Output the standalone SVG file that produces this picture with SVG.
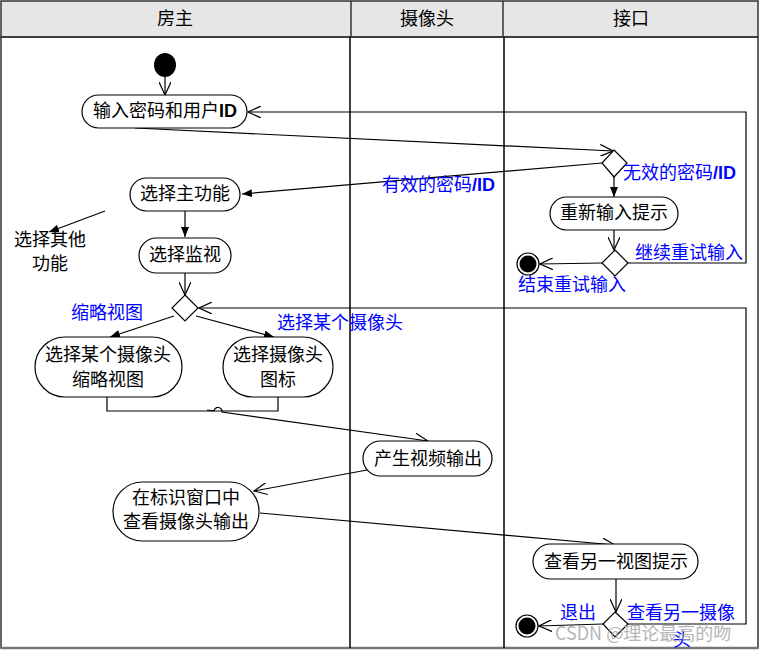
<svg xmlns="http://www.w3.org/2000/svg" width="760" height="652" viewBox="0 0 760 652">
<style>
.t{font-family:"Noto Sans CJK SC","Liberation Sans",sans-serif;font-size:18px;fill:#000;}
.c{text-anchor:middle;}
.bl{fill:#0000ff;}
.b{font-family:"Liberation Sans",Arial,sans-serif;font-weight:bold;}
.n{fill:#fff;stroke:#000;stroke-width:1.2;}
.ln{fill:none;stroke:#000;stroke-width:1.2;}
.dm{fill:#fff;stroke:#000;stroke-width:1.2;}
</style>
<defs>
<marker id="open" viewBox="0 0 14 12" refX="13" refY="6" markerWidth="14" markerHeight="12" markerUnits="userSpaceOnUse" orient="auto">
<path d="M0,0 L13,6 L0,12" fill="none" stroke="#000" stroke-width="1.2"/>
</marker>
<marker id="fill" viewBox="0 0 10 8" refX="10" refY="4" markerWidth="10" markerHeight="8" markerUnits="userSpaceOnUse" orient="auto">
<path d="M0,0 L10,4 L0,8 Z" fill="#000"/>
</marker>
</defs>
<rect x="0" y="0" width="760" height="652" fill="#fff"/>
<g id="lanes">
<rect x="1" y="1" width="757" height="36" fill="#e6e6e6" stroke="#333" stroke-width="1.5"/>
<rect x="1" y="37" width="757" height="611" fill="none" stroke="#333" stroke-width="1.5"/>
<line x1="1" y1="648" x2="758" y2="648" stroke="#777" stroke-width="2.5"/>
<line x1="351" y1="1" x2="351" y2="37" stroke="#333" stroke-width="1.5"/>
<line x1="503" y1="1" x2="503" y2="37" stroke="#333" stroke-width="1.5"/>
<line x1="350" y1="37" x2="350" y2="648" stroke="#000" stroke-width="1.5"/>
<line x1="504" y1="37" x2="504" y2="648" stroke="#000" stroke-width="1.5"/>
<text class="t c" x="175" y="25">房主</text>
<text class="t c" x="427" y="25">摄像头</text>
<text class="t c" x="631" y="25">接口</text>
</g>
<g id="connectors">
<line class="ln" x1="165" y1="77" x2="165" y2="95" marker-end="url(#open)"/>
<line class="ln" x1="135" y1="128" x2="613" y2="151" marker-end="url(#open)"/>
<line class="ln" x1="602" y1="163" x2="242" y2="194" marker-end="url(#fill)"/>
<line class="ln" x1="614" y1="177" x2="614" y2="197" marker-end="url(#fill)"/>
<line class="ln" x1="614" y1="230" x2="614" y2="250" marker-end="url(#open)"/>
<line class="ln" x1="602" y1="263" x2="540" y2="264" marker-end="url(#open)"/>
<polyline class="ln" points="628,263 746,263 746,112 248,112" marker-end="url(#open)"/>
<line class="ln" x1="185" y1="211" x2="185" y2="237" marker-end="url(#fill)"/>
<line class="ln" x1="105" y1="211" x2="49" y2="232" marker-end="url(#fill)"/>
<line class="ln" x1="185" y1="273" x2="185" y2="295" marker-end="url(#open)"/>
<line class="ln" x1="174" y1="316" x2="110" y2="337" marker-end="url(#fill)"/>
<line class="ln" x1="196" y1="316" x2="274" y2="337" marker-end="url(#fill)"/>
<polyline class="ln" points="628,624 746,624 746,308 199,308" marker-end="url(#open)"/>
<polyline class="ln" points="107,397 107,411 278,411 278,397"/>
<path class="ln" d="M207,410 L214,410.9 A4,4 0 0 1 222,412.1 L428,441" marker-end="url(#open)"/>
<line class="ln" x1="367" y1="470" x2="254" y2="491" marker-end="url(#open)"/>
<line class="ln" x1="260" y1="513" x2="615" y2="545" marker-end="url(#open)"/>
<line class="ln" x1="616" y1="579" x2="616" y2="612" marker-end="url(#open)"/>
<line class="ln" x1="603" y1="624" x2="539" y2="626" marker-end="url(#open)"/>
</g>
<g id="start"><ellipse cx="165" cy="65" rx="11" ry="12" fill="#000"/></g>
<g id="input"><rect class="n" x="82" y="95" width="165" height="33" rx="16.5"/><text class="t c" x="165" y="117">输入密码和用户<tspan class="b">ID</tspan></text></g>
<g id="d1"><polygon class="dm" points="614,150 627,163 614,177 602,163"/></g>
<g id="main"><rect class="n" x="130" y="178" width="110" height="33" rx="16.5"/><text class="t c" x="185" y="200">选择主功能</text></g>
<g id="other"><text class="t c" x="50" y="246">选择其他</text><text class="t c" x="50" y="270">功能</text></g>
<g id="monitor"><rect class="n" x="139" y="238" width="92" height="35" rx="17.5"/><text class="t c" x="185" y="261">选择监视</text></g>
<g id="d3"><polygon class="dm" points="185,295 198,308 185,321 172,308"/></g>
<g id="thumb"><rect class="n" x="35" y="337" width="147" height="60" rx="30"/><text class="t c" x="108" y="361">选择某个摄像头</text><text class="t c" x="108" y="386">缩略视图</text></g>
<g id="icon"><rect class="n" x="223" y="337" width="110" height="60" rx="30"/><text class="t c" x="278" y="361">选择摄像头</text><text class="t c" x="278" y="386">图标</text></g>
<g id="video"><rect class="n" x="363" y="441" width="129" height="35" rx="17.5"/><text class="t c" x="428" y="465">产生视频输出</text></g>
<g id="view"><rect class="n" x="113" y="482" width="146" height="59" rx="29.5"/><text class="t c" x="186" y="504">在标识窗口中</text><text class="t c" x="186" y="528">查看摄像头输出</text></g>
<g id="retry"><rect class="n" x="550" y="197" width="128" height="33" rx="16.5"/><text class="t c" x="614" y="219">重新输入提示</text></g>
<g id="d2"><polygon class="dm" points="615,250 628,263 615,276 602,263"/></g>
<g id="end1"><circle cx="528" cy="264" r="11" fill="#fff" stroke="#000" stroke-width="1.2"/><circle cx="528" cy="264" r="8.5" fill="#000"/></g>
<g id="another"><rect class="n" x="533" y="544" width="165" height="35" rx="17.5"/><text class="t c" x="616" y="568">查看另一视图提示</text></g>
<g id="d4"><polygon class="dm" points="615,612 628,624 615,637 603,624"/></g>
<g id="end2"><circle cx="527" cy="626" r="11" fill="#fff" stroke="#000" stroke-width="1.2"/><circle cx="527" cy="626" r="8.5" fill="#000"/></g>
<g id="labels">
<text class="t bl" x="382" y="191">有效的密码<tspan class="b">/ID</tspan></text>
<text class="t bl" x="623" y="179">无效的密码<tspan class="b">/ID</tspan></text>
<text class="t bl" x="635" y="259">继续重试输入</text>
<text class="t bl" x="518" y="291">结束重试输入</text>
<text class="t bl" x="71" y="319">缩略视图</text>
<text class="t bl" x="277" y="329">选择某个摄像头</text>
<text class="t bl" x="560" y="619">退出</text>
<text class="t bl" x="627" y="619">查看另一摄像</text>
<text class="t bl" x="673" y="646">头</text>
</g>
<text x="555" y="640" style="font-family:'Noto Sans CJK SC','Liberation Sans',sans-serif;font-size:18px;fill:#aaaaaa;opacity:0.85">CSDN @理论最高的吻</text>
</svg>
